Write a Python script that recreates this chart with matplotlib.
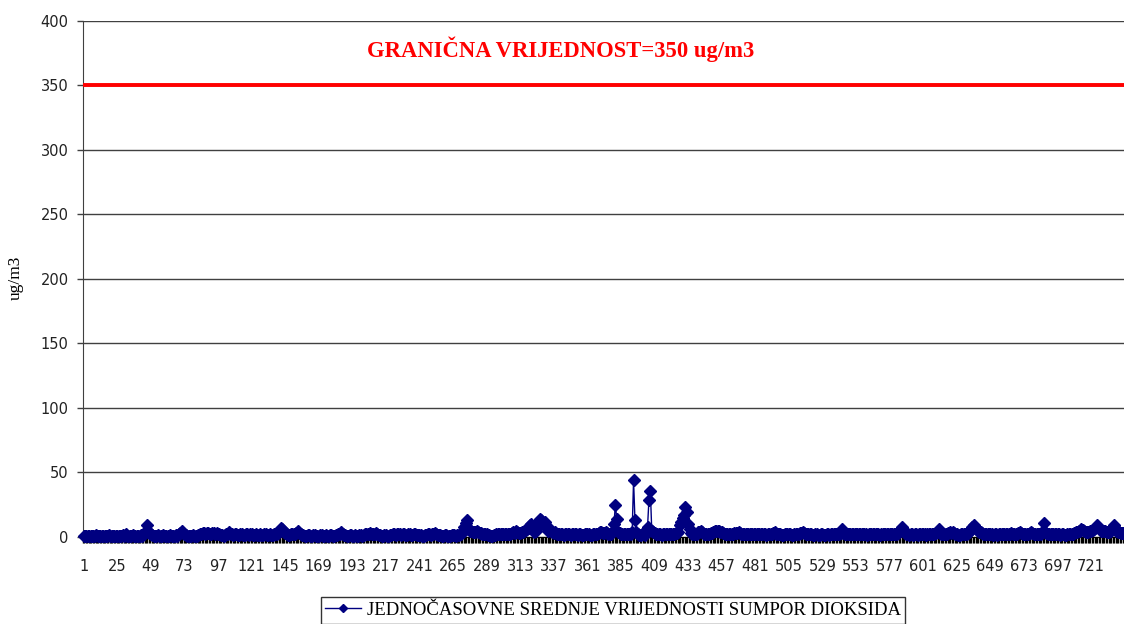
import matplotlib
matplotlib.use("Agg")
import matplotlib.pyplot as plt
import numpy as np

# hourly SO2 averages (ug/m3), one row per day
so2_hourly = [
    1, 1, 0.5, 1, 1, 0.5, 1, 1, 1, 1.5, 1, 1, 1, 0.5, 1, 1, 1, 1, 1.5, 1, 1, 1, 1, 1,
    1, 1, 1, 1, 1.5, 1, 2, 1, 1, 1, 1, 1.5, 1, 1, 1, 1, 1, 1.5, 1, 2, 4, 9, 5, 3,
    2, 1.5, 1, 1, 1, 1.5, 1, 1, 1, 1.5, 1, 1, 1, 1, 1.5, 1, 1, 1, 1.5, 1, 2, 3, 5, 3,
    2, 1.5, 1, 1, 1, 1, 1.5, 1, 1, 1, 1.5, 2, 2.5, 3, 3, 2.5, 3, 3, 2.5, 2, 3, 3, 2.5, 3,
    2.5, 2, 1.5, 1.5, 1, 1.5, 2, 2.5, 3.5, 2.5, 2, 1.5, 2, 2, 1.5, 1.5, 2, 2, 1.5, 1.5, 2, 2, 1.5, 2,
    2, 1.5, 1.5, 2, 1.5, 1.5, 2, 1.5, 1.5, 2, 2, 1.5, 1.5, 2, 1.5, 1.5, 2, 2, 2.5, 3, 5, 7, 6, 4,
    3, 2, 1.5, 1.5, 2, 2, 2.5, 2, 3, 5, 3, 2, 1.5, 1.5, 1, 1, 1.5, 1.5, 1, 1, 1.5, 1.5, 1, 1,
    1, 1.5, 1.5, 1, 1, 1.5, 1, 1, 1.5, 1.5, 1, 1, 1.5, 1.5, 2, 2.5, 3.5, 2, 1.5, 1.5, 1, 1, 1.5, 1.5,
    1, 1, 1.5, 1, 1, 1.5, 1.5, 1, 1.5, 2, 2, 2.5, 2.5, 3, 2.5, 2.5, 2.5, 3, 2, 1.5, 1.5, 1, 1, 1.5,
    1.5, 1, 1, 1.5, 1.5, 2, 2, 1.5, 2, 2, 2, 1.5, 2, 2, 1.5, 1.5, 2, 2, 1.5, 1.5, 2, 2, 1.5, 1.5,
    1.5, 1.5, 1, 1, 1.5, 1.5, 2, 2, 1.5, 2, 2.5, 3, 2, 1.5, 1.5, 1.5, 1, 1, 1.5, 1.5, 1, 1, 1, 1.5,
    1.5, 1.5, 1, 1.5, 1.5, 2, 2.5, 4, 7.5, 11, 13, 7, 5, 5, 4, 3.5, 3.5, 5, 4, 3, 3, 2.5, 2.5, 2,
    2, 1.5, 1.5, 1, 1, 1.5, 1.5, 2, 2, 2, 2.5, 2, 2, 2.5, 2.5, 2, 2, 2.5, 3, 3.5, 3, 4.5, 4, 3,
    3, 3.5, 4, 5, 5.5, 6, 7, 9, 10, 8, 4, 5, 7, 12, 14, 13, 10, 11, 12, 8, 5, 6, 5, 4,
    3, 3.5, 2.5, 2, 2, 2.5, 2, 1.5, 2, 2.5, 2, 2, 1.5, 2, 2.5, 2, 2, 1.5, 2, 2, 1.5, 1.5, 2, 2,
    2, 2, 1.5, 1.5, 2, 2, 2.5, 2.5, 3, 3.5, 4, 3, 3, 4, 3, 2, 2, 2, 5, 10, 25, 14, 4, 3,
    2.5, 2, 2, 2.5, 2, 2, 2, 2, 4, 44, 13, 4, 2, 1.5, 1.5, 2, 2, 1.5, 4, 8, 29, 36, 5, 4,
    3, 2.5, 2, 2, 2, 1.5, 2, 2, 2.5, 2, 2, 2, 2.5, 2, 2.5, 3, 3, 3.5, 9, 12, 15, 17, 23, 19,
    10, 6, 3, 2.5, 2, 2, 2.5, 3.5, 4, 5, 3.5, 2.5, 2, 2, 2, 2.5, 3, 3, 3.5, 4.5, 5, 4.5, 5, 4,
    4, 3, 2.5, 2, 2, 2.5, 2, 2, 2.5, 3, 3, 3, 4, 3, 2.5, 2, 2, 2.5, 2, 2, 2.5, 2, 2, 2,
    2, 2.5, 2, 2, 2, 2.5, 2, 2, 1.5, 2, 2, 2.5, 2.5, 3, 3.5, 2.5, 2, 2, 2, 1.5, 1.5, 2, 2, 2,
    2, 2, 1.5, 1.5, 2, 2, 2.5, 2.5, 3, 3, 4, 3, 2.5, 2.5, 2, 2, 2, 1.5, 1.5, 2, 2, 1.5, 1.5, 2,
    2, 1.5, 1.5, 2, 2, 1.5, 2, 2, 2, 2.5, 2, 2, 2.5, 3, 6, 3, 2.5, 2, 2, 2, 2, 2.5, 2, 2,
    2, 2, 2.5, 2, 2, 2.5, 2, 2, 1.5, 2, 2.5, 2, 2, 2.5, 2, 2, 2, 1.5, 2, 2, 2.5, 2, 2, 2.5,
    2.5, 2, 2, 2.5, 2, 2.5, 3, 4, 6, 7.5, 5, 3, 2, 2, 1.5, 2, 2, 1.5, 2, 2, 1.5, 2, 2, 2,
    2, 2, 1.5, 2, 2, 2.5, 2, 2, 2.5, 3, 4, 6, 3, 2, 2, 2.5, 2, 2, 3, 3.5, 3, 4, 3, 2,
    2, 1.5, 1.5, 2, 2, 2, 2.5, 2.5, 3, 4, 6, 8, 9.5, 8, 7, 5, 4, 3.5, 3, 2.5, 2.5, 2, 2, 2,
    2, 2, 1.5, 2, 2, 1.5, 2, 2, 2, 2.5, 2.5, 2, 2, 2.5, 2.5, 3, 2.5, 2.5, 2, 2.5, 3, 3.5, 3, 2.5,
    2.5, 2, 2, 2.5, 3, 4, 3, 2.5, 2.5, 2, 2, 2, 2.5, 4, 10.5, 4, 3, 2.5, 2.5, 2, 2, 2.5, 2, 2,
    2, 2, 1.5, 2, 2, 1.5, 1.5, 2, 2, 2.5, 2, 2.5, 3, 3.5, 4, 4.5, 5, 6, 5.5, 5, 4, 3.5, 4, 5,
    5, 5.5, 6, 7, 9.5, 8, 6, 5, 4.5, 4.5, 5, 4, 3.5, 4, 5, 7, 9.5, 7, 5, 4, 3.5, 3, 3, 3,
]
hours = list(range(1, len(so2_hourly) + 1))
x_labels = list(range(1, 722, 24))
y_ticks = [0, 50, 100, 150, 200, 250, 300, 350, 400]
limit_value = 350

fig = plt.figure(figsize=(11.24, 6.24), dpi=100)
ax = fig.add_axes([0.0738, 0.1394, 0.9262, 0.8274])

ax.set_ylim(0, 400)
ax.set_xlim(0.5, 740.2)
ax.set_yticks(y_ticks)
ax.yaxis.grid(True, color="#404040", linewidth=1.0)
ax.set_axisbelow(True)

ax.axhline(limit_value, color="#ff0000", linewidth=2.8, zorder=3)

series, = ax.plot(hours, so2_hourly, color="#000080", linewidth=1.0,
                  marker="D", markersize=5.8, markerfacecolor="#000080",
                  markeredgecolor="#000080", zorder=4, clip_on=False,
                  label="JEDNOČASOVNE SREDNJE VRIJEDNOSTI SUMPOR DIOKSIDA")

# x axis: labels every 24 hours, tick marks between every category
ax.set_xticks(x_labels)
ax.set_xticklabels([str(v) for v in x_labels])
ax.set_xticks(np.arange(0.5, len(hours) + 1, 1.0), minor=True)
ax.tick_params(axis="x", which="major", length=0, pad=16, labelsize=10.5, labelcolor="#222222")
ax.tick_params(axis="x", which="minor", length=4, width=1.0, color="black", direction="out")
ax.tick_params(axis="y", which="major", length=4.3, width=1.0, color="#404040",
               pad=6, labelsize=10.5, labelcolor="#222222")

for side in ["top", "right"]:
    ax.spines[side].set_visible(False)
ax.spines["left"].set_color("#404040")
ax.spines["bottom"].set_color("black")

ax.text(0.459, 0.945, "GRANIČNA VRIJEDNOST=350 ug/m3", transform=ax.transAxes,
        ha="center", va="center", color="#ff0000", fontsize=16.3,
        fontweight="bold", family="Liberation Serif")

fig.text(0.0142, 0.554, "ug/m3", rotation=90, ha="center", va="center",
         fontsize=12.5, family="Liberation Serif")

leg = fig.legend(handles=[series], loc="upper center",
                 bbox_to_anchor=(613 / 1124, 1 - 597 / 624),
                 prop={"family": "Liberation Serif", "size": 13.5},
                 frameon=True, fancybox=False, handlelength=1.9, markerscale=0.7,
                 borderpad=0.25, handletextpad=0.3, borderaxespad=0)
leg.get_frame().set_edgecolor("black")
leg.get_frame().set_linewidth(1.0)

fig.savefig("out.png", dpi=100)
